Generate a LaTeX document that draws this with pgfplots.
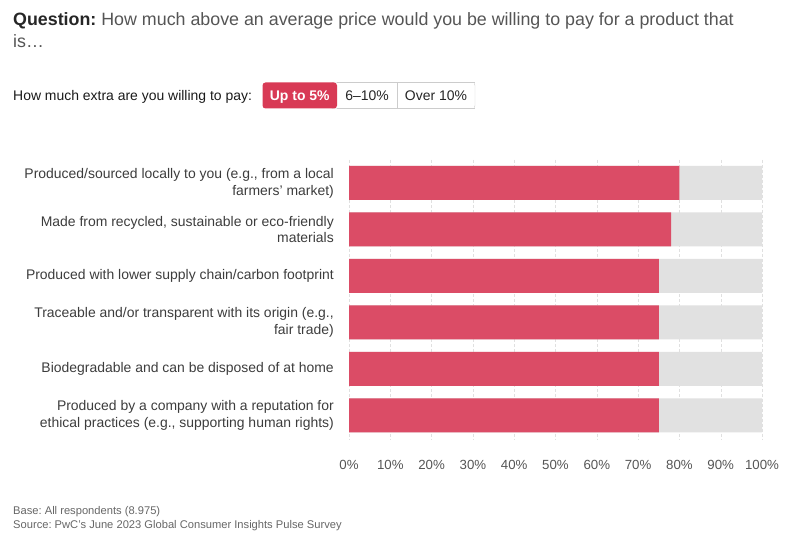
\documentclass[border=0pt]{standalone}
\usepackage{pgfplots}
\pgfplotsset{compat=1.18}
\usepackage{fontspec}
\setmainfont{Liberation Sans}
\frenchspacing
\definecolor{pwcred}{HTML}{DB4C66}
\definecolor{btnred}{HTML}{D83A55}
\definecolor{barbg}{HTML}{E1E1E1}
\definecolor{txt}{HTML}{3C3C3C}
\definecolor{qtxt}{HTML}{555555}
\definecolor{ticktxt}{HTML}{555555}
\definecolor{foot}{HTML}{666666}
\begin{document}
\frenchspacing
\begin{tikzpicture}[x=1bp,y=1bp]
\useasboundingbox (0,0) rectangle (801,541);
% title
\node[anchor=base west, inner sep=0pt, font=\fontsize{17.9}{22}\selectfont, text=qtxt] at (13,515.3)
  {\textcolor{black!85}{\textbf{Question:}} How much above an average price would you be willing to pay for a product that};
\node[anchor=base west, inner sep=0pt, font=\fontsize{17.9}{22}\selectfont, text=qtxt] at (13,493.7) {is…};
% selector
\node[anchor=base west, inner sep=0pt, font=\fontsize{14}{17}\selectfont, text=black!90] at (13,440) {How much extra are you willing to pay:};
\draw[black!20, rounded corners=3bp] (330,432.5) rectangle (475,458.5);
\fill[white] (337,433) rectangle (474,458);
\draw[black!20] (337,432.5) -- (475,432.5) (337,458.5) -- (475,458.5);
\draw[black!20] (397,432.5) -- (397,458.5);
\fill[btnred, rounded corners=3bp] (262.5,432.5) rectangle (337,458.5);
\node[anchor=base, inner sep=0pt, font=\fontsize{14}{17}\selectfont\bfseries, text=white] at (299.75,440.5) {Up to 5\%};
\node[anchor=base, inner sep=0pt, font=\fontsize{14}{17}\selectfont, text=black!85] at (367,440.5) {6–10\%};
\node[anchor=base, inner sep=0pt, font=\fontsize{14}{17}\selectfont, text=black!85] at (436,440.5) {Over 10\%};
% footer
\node[anchor=base west, inner sep=0pt, font=\fontsize{11.2}{13}\selectfont, text=foot] at (13,26) {Base: All respondents (8.975)};
\node[anchor=base west, inner sep=0pt, font=\fontsize{11.2}{13}\selectfont, text=foot] at (13,12) {Source: PwC’s June 2023 Global Consumer Insights Pulse Survey};
\begin{axis}[
  at={(349bp,102.25bp)}, anchor=south west,
  scale only axis, width=413bp, height=279bp,
  xmin=0, xmax=100, ymin=-0.5, ymax=5.5, y dir=reverse,
  xbar, bar width=34bp, bar shift=0pt,
  axis line style={draw=none}, major tick length=0pt,
  xtick={0,10,...,100},
  xticklabel={\pgfmathprintnumber{\tick}\%},
  /pgf/number format/assume math mode=true,
  xticklabel style={anchor=north, inner sep=0pt, yshift=-21.5bp, font=\fontsize{13.3}{15}\selectfont, text=ticktxt},
  ytick={0,...,5},
  yticklabels={
    {Produced/sourced locally to you (e.g., from a local\\farmers’ market)},
    {Made from recycled, sustainable or eco-friendly\\materials},
    {Produced with lower supply chain/carbon footprint},
    {Traceable and/or transparent with its origin (e.g.,\\fair trade)},
    {Biodegradable and can be disposed of at home},
    {Produced by a company with a reputation for\\ethical practices (e.g., supporting human rights)}},
  yticklabel style={align=right, anchor=east, inner sep=0pt, xshift=-15bp, font=\fontsize{14}{17}\selectfont, text=txt},
  xmajorgrids, grid style={densely dashed, draw=black!12},
  clip=false,
]
\addplot[fill=barbg, draw=none] coordinates {(100,0) (100,1) (100,2) (100,3) (100,4) (100,5)};
\addplot[fill=pwcred, draw=none] coordinates {(80,0) (78,1) (75,2) (75,3) (75,4) (75,5)};
\end{axis}
\end{tikzpicture}
\end{document}
